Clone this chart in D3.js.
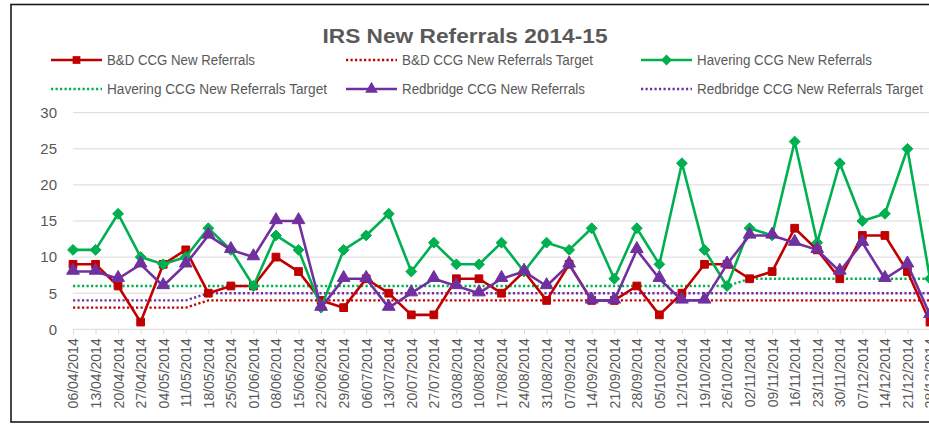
<!DOCTYPE html>
<html>
<head>
<meta charset="utf-8">
<script src="https://cdn.jsdelivr.net/npm/d3@7"></script>
<style>
  body { margin: 0; background: #fff; }
  svg { display: block; font-family: "Liberation Sans", Arial, sans-serif; }
  .tick text { fill: #595959; }
</style>
</head>
<body>
<div id="chart"></div>
<script>
const width = 929, height = 425;

const weeks = ["06/04/2014","13/04/2014","20/04/2014","27/04/2014","04/05/2014","11/05/2014",
  "18/05/2014","25/05/2014","01/06/2014","08/06/2014","15/06/2014","22/06/2014","29/06/2014",
  "06/07/2014","13/07/2014","20/07/2014","27/07/2014","03/08/2014","10/08/2014","17/08/2014",
  "24/08/2014","31/08/2014","07/09/2014","14/09/2014","21/09/2014","28/09/2014","05/10/2014",
  "12/10/2014","19/10/2014","26/10/2014","02/11/2014","09/11/2014","16/11/2014","23/11/2014",
  "30/11/2014","07/12/2014","14/12/2014","21/12/2014","28/12/2014"];

const bdReferrals = [9,9,6,1,9,11,5,6,6,10,8,4,3,7,5,2,2,7,7,5,8,4,9,4,4,6,2,5,9,9,7,8,14,11,7,13,13,8,1];
const bdTarget = [3,3,3,3,3,3,4,4,4,4,4,4,4,4,4,4,4,4,4,4,4,4,4,4,4,4,4,4,4,4,4,4,4,4,4,4,4,4,4];
const haveringReferrals = [11,11,16,10,9,10,14,11,6,13,11,3,11,13,16,8,12,9,9,12,8,12,11,14,7,14,9,23,11,6,14,13,26,12,23,15,16,25,7];
const haveringTarget = [6,6,6,6,6,6,6,6,6,6,6,6,6,6,6,6,6,6,6,6,6,6,6,6,6,6,6,6,6,6,7,7,7,7,7,7,7,7,7];
const redbridgeReferrals = [8,8,7,9,6,9,13,11,10,15,15,3,7,7,3,5,7,6,5,7,8,6,9,4,4,11,7,4,4,9,13,13,12,11,8,12,7,9,2];
const redbridgeTarget = [4,4,4,4,4,4,5,5,5,5,5,5,5,5,5,5,5,5,5,5,5,5,5,5,5,5,5,5,5,5,5,5,5,5,5,5,5,5,5];
const yTicks = [0,5,10,15,20,25,30];

const series = [
  { name: "B&D CCG New Referrals", values: bdReferrals, color: "#C00000", marker: "square" },
  { name: "B&D CCG New Referrals Target", values: bdTarget, color: "#C00000", dotted: true },
  { name: "Havering CCG New Referrals", values: haveringReferrals, color: "#00B050", marker: "diamond" },
  { name: "Havering CCG New Referrals Target", values: haveringTarget, color: "#00B050", dotted: true },
  { name: "Redbridge CCG New Referrals", values: redbridgeReferrals, color: "#7030A0", marker: "triangle" },
  { name: "Redbridge CCG New Referrals Target", values: redbridgeTarget, color: "#7030A0", dotted: true }
];

const svg = d3.select("#chart").append("svg")
    .attr("width", width)
    .attr("height", height);

// chart frame (cut off on the right like the screenshot)
svg.append("rect")
    .attr("x", 11).attr("y", 4.5)
    .attr("width", width + 20).attr("height", 417.5)
    .attr("fill", "none")
    .attr("stroke", "#1a1a1a")
    .attr("stroke-width", 1.6);

svg.append("text")
    .attr("x", 465).attr("y", 43)
    .attr("text-anchor", "middle")
    .attr("font-size", 21)
    .attr("font-weight", "bold")
    .attr("fill", "#595959")
    .attr("textLength", 285)
    .attr("lengthAdjust", "spacingAndGlyphs")
    .text("IRS New Referrals 2014-15");

const x = d3.scalePoint().domain(weeks).range([73, 930]);
const y = d3.scaleLinear().domain([0, 30]).range([329.3, 112.7]);

// gridlines
svg.append("g")
    .selectAll("line")
    .data(yTicks.filter(d => d > 0))
    .enter().append("line")
    .attr("x1", 73).attr("x2", width)
    .attr("y1", d => y(d)).attr("y2", d => y(d))
    .attr("stroke", "#d9d9d9")
    .attr("stroke-width", 1);

// y axis labels
const yAxis = svg.append("g")
    .attr("transform", "translate(73,0)")
    .call(d3.axisLeft(y).tickValues(yTicks).tickSize(0).tickPadding(16));
yAxis.select(".domain").remove();
yAxis.selectAll("text").attr("font-size", 15).attr("font-family", "Liberation Sans, sans-serif");

// x axis
const xAxis = svg.append("g")
    .attr("transform", `translate(0,${y(0)})`)
    .call(d3.axisBottom(x).tickSize(5).tickPadding(6));
xAxis.select(".domain").attr("stroke", "#d9d9d9").attr("stroke-width", 1)
    .attr("d", `M73,0H${width}`);
xAxis.selectAll(".tick line").attr("stroke", "#d9d9d9");
xAxis.selectAll(".tick text")
    .attr("font-size", 14)
    .attr("font-family", "Liberation Sans, sans-serif")
    .attr("transform", "rotate(-90)")
    .attr("text-anchor", "end")
    .attr("x", -9)
    .attr("y", 0)
    .attr("dy", "0.35em");

const line = d3.line()
    .x((d, i) => x(weeks[i]))
    .y(d => y(d));

const symbolFor = {
  square: d3.symbol().type(d3.symbolSquare).size(60),
  diamond: d3.symbol().type(d3.symbolDiamond2).size(75),
  triangle: d3.symbol().type(d3.symbolTriangle).size(70)
};

// draw targets first, then actuals
const drawOrder = [1, 3, 5, 0, 2, 4];
drawOrder.forEach(k => {
  const s = series[k];
  const gS = svg.append("g");
  gS.append("path")
      .datum(s.values)
      .attr("fill", "none")
      .attr("stroke", s.color)
      .attr("stroke-width", s.dotted ? 2.4 : 2.6)
      .attr("stroke-dasharray", s.dotted ? "2.2,2.3" : null)
      .attr("stroke-linejoin", "round")
      .attr("d", line);
  if (s.marker) {
    gS.selectAll("path.mk")
        .data(s.values)
        .enter().append("path")
        .attr("class", "mk")
        .attr("d", symbolFor[s.marker])
        .attr("transform", (d, i) => `translate(${x(weeks[i])},${y(d) + (s.marker === "triangle" ? -1 : 0)})`)
        .attr("fill", s.color)
        .attr("stroke", s.color)
        .attr("stroke-width", 1);
  }
});

// legend
const legendCols = [51, 346, 641];
const legendRows = [60, 89];
const legendWidths = [148, 191, 175, 220, 183, 226];
const legend = svg.append("g");
series.forEach((s, k) => {
  const lx = legendCols[k % 3], ly = legendRows[Math.floor(k / 3)];
  const item = legend.append("g").attr("transform", `translate(${lx},${ly})`);
  item.append("line")
      .attr("x1", 0).attr("x2", 51)
      .attr("stroke", s.color)
      .attr("stroke-width", s.dotted ? 2.4 : 2.6)
      .attr("stroke-dasharray", s.dotted ? "2.2,2.3" : null);
  if (s.marker) {
    item.append("path")
        .attr("d", symbolFor[s.marker])
        .attr("transform", "translate(25.5,0)")
        .attr("fill", s.color);
  }
  item.append("text")
      .attr("x", 56).attr("y", 5)
      .attr("font-size", 14)
      .attr("fill", "#595959")
      .attr("textLength", legendWidths[k])
      .attr("lengthAdjust", "spacingAndGlyphs")
      .text(s.name);
});
</script>
</body>
</html>
